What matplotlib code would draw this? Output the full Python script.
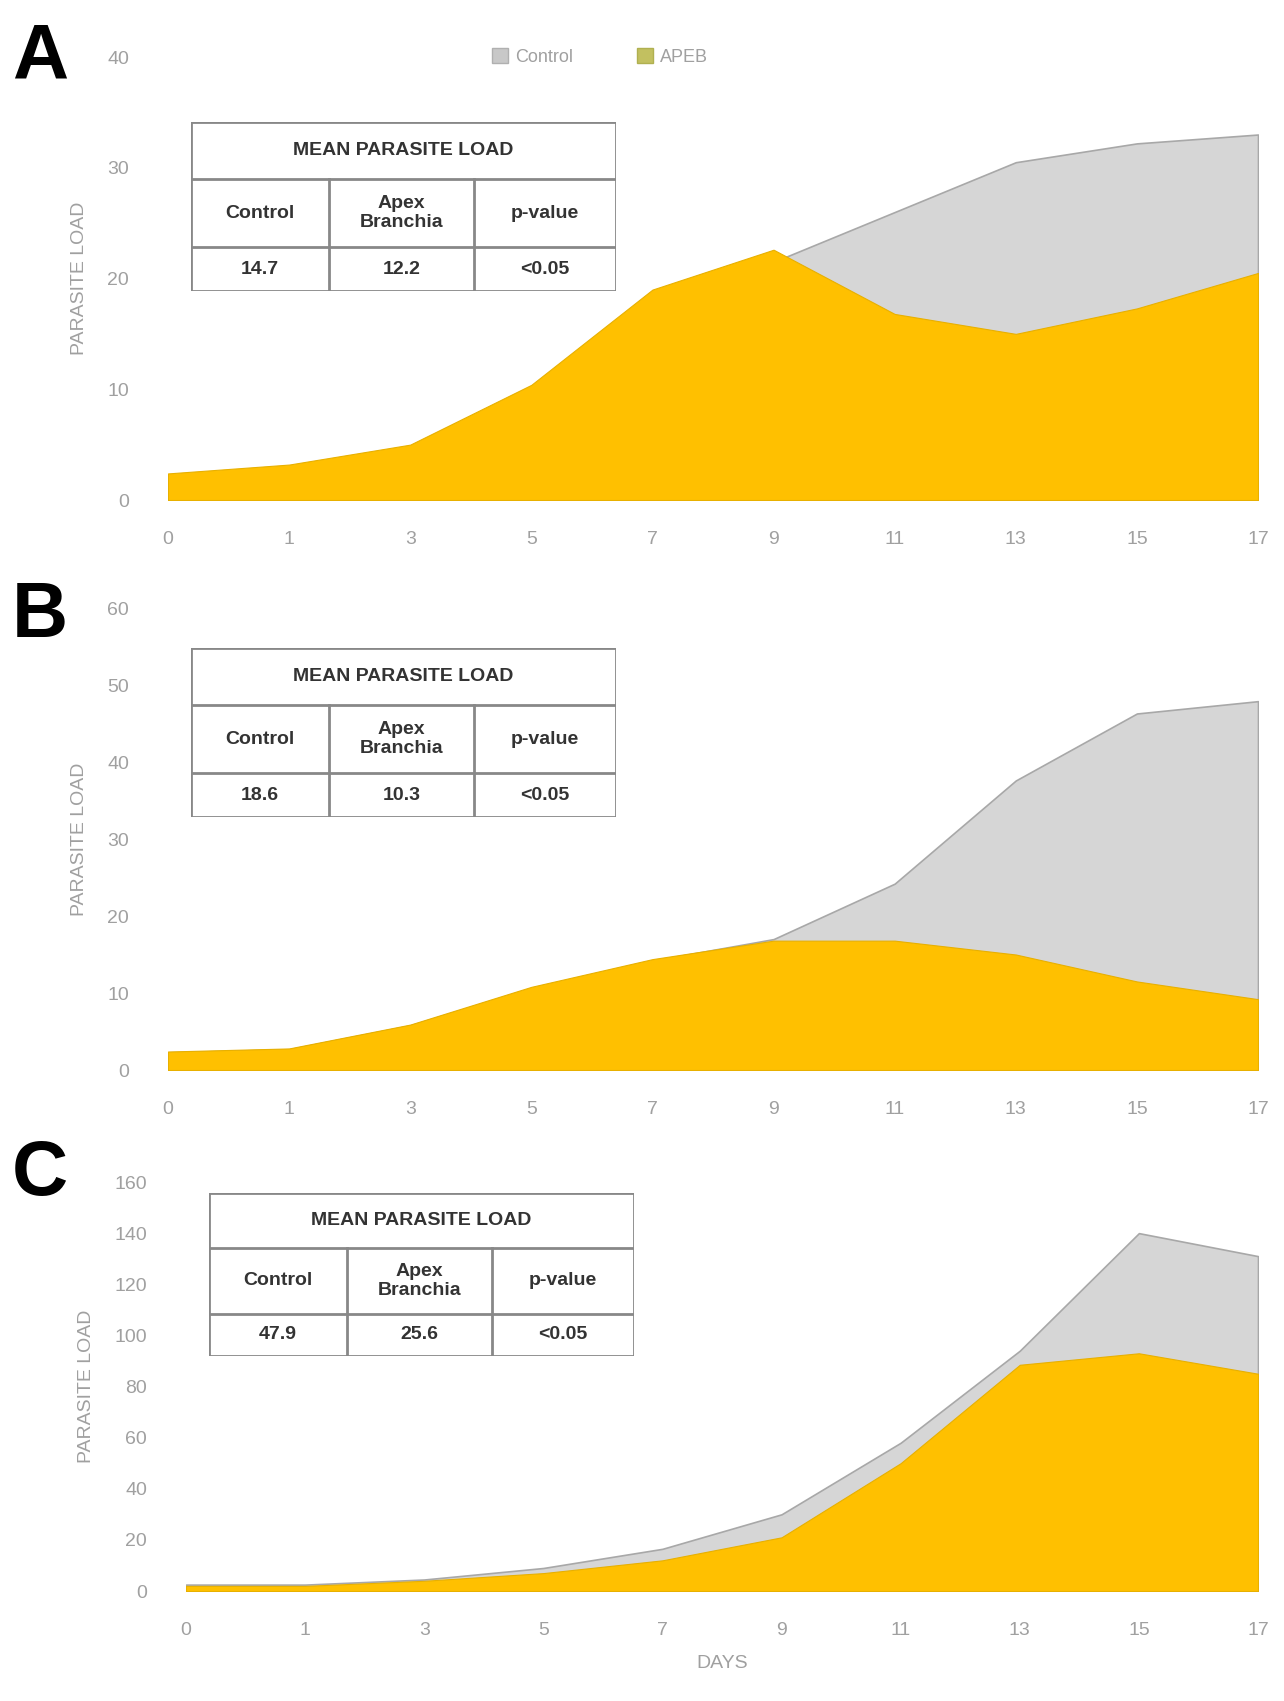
import matplotlib
matplotlib.use("Agg")
import matplotlib.pyplot as plt
import numpy as np
from matplotlib.patches import Patch

plt.rcParams['font.family'] = ['Liberation Sans', 'DejaVu Sans']

days = ["0", "1", "3", "5", "7", "9", "11", "13", "15", "17"]

control_A = [2.2, 3.0, 4.8, 10.0, 18.5, 21.5, 26.0, 30.5, 32.2, 33.0]
apeb_A = [2.4, 3.2, 5.0, 10.4, 19.0, 22.6, 16.8, 15.0, 17.3, 20.5]

control_B = [2.3, 2.7, 5.8, 10.6, 14.2, 17.0, 24.2, 37.6, 46.3, 47.9]
apeb_B = [2.4, 2.8, 5.9, 10.8, 14.4, 16.8, 16.8, 15.0, 11.5, 9.2]

control_C = [2.5, 2.5, 4.5, 9.0, 16.5, 30.0, 58.0, 94.0, 140.0, 131.0]
apeb_C = [2.0, 2.0, 4.0, 7.0, 12.0, 21.0, 50.0, 88.5, 93.0, 85.0]

yticks_A = [0, 10, 20, 30, 40]
yticks_B = [0, 10, 20, 30, 40, 50, 60]
yticks_C = [0, 20, 40, 60, 80, 100, 120, 140, 160]

table_header = "MEAN PARASITE LOAD"
table_cols = ["Control", "Apex\nBranchia", "p-value"]
means_A = ["14.7", "12.2", "<0.05"]
means_B = ["18.6", "10.3", "<0.05"]
means_C = ["47.9", "25.6", "<0.05"]

series_names = ["Control", "APEB"]

W, H = 1284, 1701
fig = plt.figure(figsize=(W / 100, H / 100), dpi=100)

GREY = "#d6d6d6"
GREY_EDGE = "#a8a8a8"
YELLOW = "#ffc000"
TICK = "#a0a0a0"


def px_axes(left, top, right, bottom):
    return fig.add_axes([left / W, 1 - bottom / H, (right - left) / W, (bottom - top) / H])


def draw_panel(box, ctrl, apeb, yticks, letter, letter_pos, show_xlabel=False):
    ax = px_axes(*box)
    x = np.arange(len(days))
    ax.fill_between(x, 0, ctrl, color=GREY, edgecolor=GREY_EDGE, linewidth=1.2, zorder=1)
    ax.fill_between(x, 0, apeb, color=YELLOW, edgecolor="#e8b000", linewidth=0.8, zorder=2)
    ax.set_xlim(0, len(days) - 1)
    ax.set_ylim(yticks[0], yticks[-1])
    ax.set_xticks(x)
    ax.set_xticklabels(days)
    ax.set_yticks(yticks)
    ax.tick_params(colors=TICK, labelsize=14, length=0, pad=22)
    ax.tick_params(axis='y', pad=28)
    for s in ax.spines.values():
        s.set_visible(False)
    ax.set_ylabel("PARASITE LOAD", color=TICK, fontsize=14, labelpad=14)
    if show_xlabel:
        ax.set_xlabel("DAYS", color=TICK, fontsize=14, labelpad=12)
    fig.text(letter_pos[0] / W, 1 - letter_pos[1] / H, letter, fontsize=56,
             fontweight="bold", color="black", ha="left", va="top")
    return ax


def draw_table(box, values):
    left, top, right, bottom = box
    tax = px_axes(left, top, right, bottom)
    tax.set_xlim(0, 1)
    tax.set_ylim(0, 1)
    tax.axis("off")
    tax.add_patch(plt.Rectangle((0, 0), 1, 1, facecolor="white", edgecolor="#888888", lw=2))
    r1, r2 = 1 - 52 / 155, 1 - 115 / 155
    c1, c2 = 127 / 392, 261 / 392
    lc = "#888888"
    tax.plot([0, 1], [r1, r1], color=lc, lw=2)
    tax.plot([0, 1], [r2, r2], color=lc, lw=2)
    tax.plot([c1, c1], [0, r1], color=lc, lw=2)
    tax.plot([c2, c2], [0, r1], color=lc, lw=2)
    tc = "#333333"
    tax.text(0.5, (1 + r1) / 2, table_header, ha="center", va="center", fontsize=14,
             fontweight="bold", color=tc)
    cx = [c1 / 2, (c1 + c2) / 2, (c2 + 1) / 2]
    for i in range(3):
        tax.text(cx[i], (r1 + r2) / 2, table_cols[i], ha="center", va="center", fontsize=14,
                 fontweight="bold", color=tc, linespacing=1.15)
        tax.text(cx[i], r2 / 2, values[i], ha="center", va="center", fontsize=14,
                 fontweight="bold", color=tc)


axA = draw_panel((168, 57, 1258, 500), control_A, apeb_A, yticks_A, "A", (12, 22))
axB = draw_panel((168, 608, 1258, 1070), control_B, apeb_B, yticks_B, "B", (12, 580))
axC = draw_panel((186, 1182, 1258, 1591), control_C, apeb_C, yticks_C, "C", (12, 1138),
                 show_xlabel=True)

draw_table((191, 122, 616, 291), means_A)
draw_table((191, 648, 616, 817), means_B)
draw_table((209, 1193, 634, 1356), means_C)

handles = [Patch(facecolor="#c8c8c8", edgecolor="#b0b0b0"),
           Patch(facecolor="#c2c060", edgecolor="#b0b050")]
fig.legend(handles, series_names, loc="center", bbox_to_anchor=(600 / W, 1 - 57 / H),
           ncol=2, frameon=False, fontsize=13, labelcolor=TICK, handlelength=0.9,
           handleheight=0.9, columnspacing=3.5, handletextpad=0.4)

fig.savefig("out.png", dpi=100, facecolor="white")
